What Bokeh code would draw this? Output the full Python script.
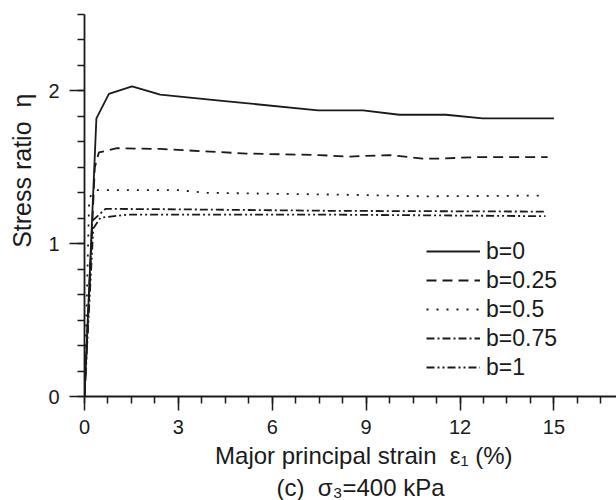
from bokeh.plotting import figure
from bokeh.models import Range1d, FixedTicker, Legend, LegendItem, Title
from bokeh.embed import file_html
from bokeh.resources import INLINE

# Stress ratio vs. major principal strain, sigma3 = 400 kPa
strain_b0 = [0, 0.38, 0.78, 1.52, 2.42, 4.4, 7.46, 8.9, 10.06, 11.55, 12.72, 15.0]
eta_b0 = [0, 1.82, 1.98, 2.03, 1.975, 1.935, 1.873, 1.873, 1.844, 1.844, 1.82, 1.82]

strain_b025 = [0, 0.33, 0.46, 1.04, 2.42, 5.18, 7.5, 8.4, 9.75, 10.8, 11.4, 12.4, 14.8]
eta_b025 = [0, 1.50, 1.597, 1.625, 1.62, 1.59, 1.58, 1.57, 1.58, 1.557, 1.557, 1.566, 1.566]

strain_b05 = [0, 0.15, 0.35, 3.0, 3.9, 8.5, 10.8, 14.6]
eta_b05 = [0, 1.30, 1.35, 1.35, 1.333, 1.32, 1.31, 1.315]

strain_b075 = [0, 0.25, 0.67, 3.0, 8.0, 14.73]
eta_b075 = [0, 1.15, 1.228, 1.225, 1.215, 1.21]

strain_b1 = [0, 0.28, 0.51, 1.36, 8.0, 14.73]
eta_b1 = [0, 1.10, 1.17, 1.19, 1.19, 1.18]

series_labels = ["b=0", "b=0.25", "b=0.5", "b=0.75", "b=1"]
x_major = [0, 3, 6, 9, 12, 15]
y_major = [0, 1, 2]

FONT = "Liberation Sans"
INK = "#1a1a1a"
NB = "\u00a0"  # non-collapsing space for label spacing

p = figure(width=616, height=500,
           x_range=Range1d(0, 17), y_range=Range1d(0, 2.5),
           output_backend="svg", toolbar_location=None,
           min_border_left=84, min_border_right=0,
           min_border_top=14, min_border_bottom=104)
p.xgrid.visible = False
p.ygrid.visible = False
p.outline_line_color = None
p.background_fill_color = "white"
p.border_fill_color = "white"

p.xaxis.ticker = FixedTicker(ticks=x_major, minor_ticks=[k * 0.75 for k in range(23)])
p.yaxis.ticker = FixedTicker(ticks=y_major, minor_ticks=[k / 6 for k in range(16)])

for ax in (p.xaxis[0], p.yaxis[0]):
    ax.axis_line_width = 1.8
    ax.axis_line_color = INK
    ax.major_tick_line_width = 1.5
    ax.minor_tick_line_width = 1.5
    ax.major_tick_line_color = INK
    ax.minor_tick_line_color = INK
    ax.major_tick_in = 0
    ax.minor_tick_in = 0
    ax.minor_tick_out = 7
    ax.major_label_text_font = FONT
    ax.major_label_text_font_size = "20px"
    ax.major_label_text_color = INK
    ax.axis_label_text_font = FONT
    ax.axis_label_text_font_style = "normal"
    ax.axis_label_text_color = INK

p.xaxis.major_tick_out = 14
p.xaxis.major_label_standoff = 9
p.xaxis.axis_label = NB * 4 + "Major principal strain" + NB * 2 + "ε\u2081" + NB + "(%)"
p.xaxis.axis_label_text_font_size = "24px"
p.xaxis.axis_label_standoff = 5

p.yaxis.major_tick_out = 15
p.yaxis.major_label_standoff = 10
p.yaxis.axis_label = NB * 10 + "Stress ratio" + NB * 2 + "η"
p.yaxis.axis_label_text_font_size = "25px"
p.yaxis.axis_label_standoff = 9

r0 = p.line(strain_b0, eta_b0, line_color=INK, line_width=1.8)
r1 = p.line(strain_b025, eta_b025, line_color=INK, line_width=1.8, line_dash="10 6")
r2 = p.line(strain_b05, eta_b05, line_color=INK, line_width=1.8, line_dash="2 8")
r3 = p.line(strain_b075, eta_b075, line_color=INK, line_width=1.8, line_dash="8 3 2 3")
r4 = p.line(strain_b1, eta_b1, line_color=INK, line_width=1.8, line_dash="8 3 2 3 2 3")

legend = Legend(
    items=[LegendItem(label=lab, renderers=[r])
           for lab, r in zip(series_labels, [r0, r1, r2, r3, r4])],
    location=(342, 15),
    glyph_width=54, glyph_height=28, label_height=28,
    label_standoff=6, spacing=1, padding=0, margin=0,
    label_text_font=FONT, label_text_font_size="23px", label_text_color=INK,
    border_line_color=None, background_fill_alpha=0,
)
p.add_layout(legend)

caption = Title(text=NB * 3 + "(c)" + NB * 2 + "σ\u2083=400 kPa", align="center",
                text_font=FONT, text_font_size="24px",
                text_font_style="normal", text_color=INK, standoff=0)
p.add_layout(caption, "below")

open("out.html", "w").write(file_html(p, INLINE))
